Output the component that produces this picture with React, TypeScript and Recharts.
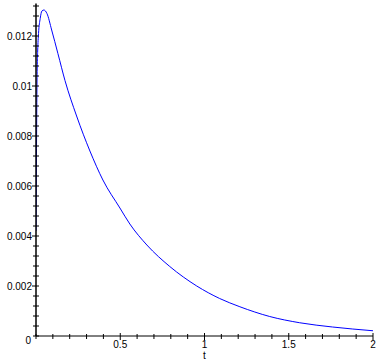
import React from 'react';
import { LineChart, Line, XAxis, YAxis } from 'recharts';

const tValues = [0, 0.003, 0.006, 0.01, 0.015, 0.025, 0.035, 0.047, 0.065, 0.093, 0.13, 0.172, 0.241, 0.32, 0.397, 0.498, 0.557, 0.658, 0.794, 0.954, 1.09, 1.21, 1.387, 1.565, 1.76, 2.0];
const yValues = [0.0042, 0.0075, 0.0102, 0.0114, 0.0121, 0.0127, 0.013, 0.01304, 0.0129, 0.01224, 0.0113, 0.01022, 0.0088, 0.0074, 0.00624, 0.00512, 0.00448, 0.00364, 0.00278, 0.002, 0.0015, 0.00117, 0.00078, 0.00053, 0.00036, 0.00021];

const xMajorLabels = [0.5, 1, 1.5, 2];
const yMajorLabels = [0.002, 0.004, 0.006, 0.008, 0.01, 0.012];

const xTicks = Array.from({ length: 21 }, (_, i) => i / 10);
const yTicks = Array.from({ length: 34 }, (_, i) => (i * 4) / 10000);

const data = tValues.map((t, i) => ({ t, v: yValues[i] }));

const isMajor = (arr: number[], v: number) => arr.some((m) => Math.abs(m - v) < 1e-9);

const fontFamily = '"Liberation Sans", Arial, sans-serif';

const XTick = (props: any) => {
  const { x, y, payload } = props;
  const v = payload.value;
  const major = isMajor(xMajorLabels, v);
  return (
    <g>
      <line x1={x} x2={x} y1={y - (major ? 3 : 2)} y2={y + (major ? 4 : 3)} stroke="#000" strokeWidth={1} />
      {major && (
        <text x={x} y={y + 12} textAnchor="middle" fontSize={10} fontFamily={fontFamily} fill="#000">
          {String(v)}
        </text>
      )}
      {v === 0 && (
        <text x={x - 5} y={y + 8} textAnchor="end" fontSize={10} fontFamily={fontFamily} fill="#000">
          0
        </text>
      )}
    </g>
  );
};

const YTick = (props: any) => {
  const { x, y, payload } = props;
  const v = payload.value;
  const major = isMajor(yMajorLabels, v);
  return (
    <g>
      <line x1={x - (major ? 4 : 3)} x2={x + 3} y1={y} y2={y} stroke="#000" strokeWidth={1} />
      {major && (
        <text x={x - 4} y={y} dy="0.35em" textAnchor="end" fontSize={10} fontFamily={fontFamily} fill="#000">
          {String(v)}
        </text>
      )}
    </g>
  );
};

export default function App() {
  return (
    <div style={{ position: 'absolute', left: 0, top: 0, width: 384, height: 364, background: '#fff' }}>
      <LineChart width={384} height={364} data={data} margin={{ top: 3.5, right: 11, bottom: 0, left: 0 }}>
        <XAxis
          dataKey="t"
          type="number"
          domain={[0, 2]}
          ticks={xTicks}
          interval={0}
          tick={<XTick />}
          tickLine={false}
          tickSize={0}
          tickMargin={0}
          height={28}
          axisLine={{ stroke: '#000', strokeWidth: 1 }}
          allowDataOverflow
          label={{ value: 't', position: 'insideBottom', offset: 5, fontSize: 10, fontFamily, fill: '#000' }}
        />
        <YAxis
          type="number"
          domain={[0, 0.0133]}
          ticks={yTicks}
          interval={0}
          tick={<YTick />}
          tickLine={false}
          tickSize={0}
          tickMargin={0}
          width={36}
          axisLine={{ stroke: '#000', strokeWidth: 1.5 }}
          allowDataOverflow
        />
        <Line
          type="monotone"
          dataKey="v"
          stroke="#0000ff"
          strokeWidth={1}
          dot={false}
          isAnimationActive={false}
        />
      </LineChart>
    </div>
  );
}
